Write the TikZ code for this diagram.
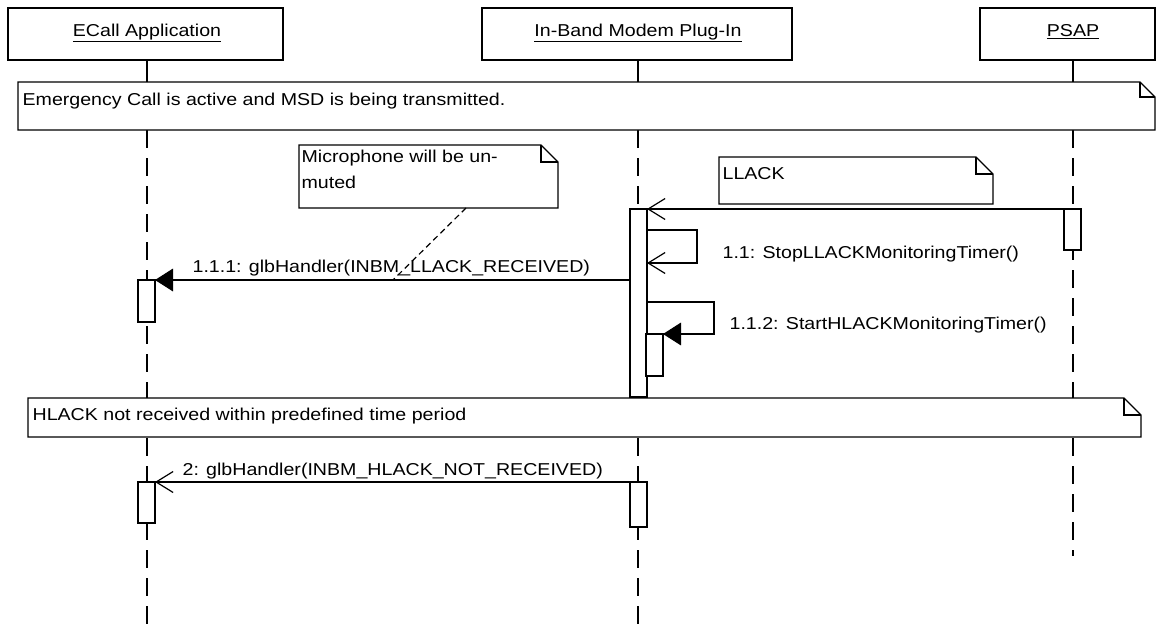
\documentclass[tikz,border=0pt]{standalone}
\usepackage{fontspec}
\setmainfont{Liberation Sans}[FakeStretch=1.14]
\usetikzlibrary{arrows.meta}

\begin{document}
\begin{tikzpicture}[x=0.75pt, y=-0.75pt, line width=0.9pt,
    font=\fontsize{12.9pt}{19.5pt}\selectfont,
    attore/.style={draw, line width=2pt, minimum height=39pt, inner sep=0pt, outer sep=0pt},
    att/.style={draw, fill=white, minimum width=12.75pt, inner sep=0pt, outer sep=0pt, anchor=north west},
    vita/.style={dash pattern=on 13.5pt off 7.5pt},
    apert/.style={-{Straight Barb[length=12.75pt, width=15.75pt]}},
    pieno/.style={-{Triangle[length=13.5pt, width=17pt]}},
    testo/.style={anchor=base west, inner sep=0pt}]
    \useasboundingbox (0,0) rectangle (1156,632);

    % Attori
    \node[attore, minimum width=206.25pt] (ecall) at (145.5,34) {};
    \node[attore, minimum width=232.5pt] (ibm) at (637,34) {};
    \node[attore, minimum width=131.25pt] (psap) at (1067.5,34) {};
    \node[anchor=base, inner sep=0pt] (ecallt) at (147,36) {\underline{ECall Application}};
    \node[anchor=base, inner sep=0pt] (ibmt) at (638,36) {\underline{In-Band Modem Plug-In}};
    \node[anchor=base, inner sep=0pt] (psapt) at (1073,36) {\underline{PSAP}};

    % Linee di vita
    \draw (ecallt |- ecall.south) -- (ecallt |- 0,82);
    \draw (ibmt |- ibm.south) -- (ibmt |- 0,82);
    \draw (psapt |- psap.south) -- (psapt |- 0,82);
    \draw[vita] (ecallt |- 0,130) -- (ecallt |- 0,632);
    \draw[vita] (ibmt |- 0,130) -- (ibmt |- 0,632);
    \draw[vita] (psapt |- 0,130) -- (psapt |- 0,556);

    % Note
    \foreach \xa/\ya/\xb/\yb/\f in {18/82/1155/130/15, 299/145/558/208/17, 719/157/993/204/17, 28/398/1141/437/17} {
        \draw[fill=white] (\xa,\ya) -- (\xb-\f,\ya) -- (\xb,\ya+\f) -- (\xb,\yb) -- (\xa,\yb) -- cycle;
        \draw (\xb-\f,\ya) -- (\xb-\f,\ya+\f) -- (\xb,\ya+\f);
    }
    \node[testo] (attiva) at (22,105) {Emergency Call is active and MSD is being transmitted.};
    \node[anchor=north west, inner sep=0pt, align=left] (micro) at (301,149) {Microphone will be un-\\muted};
    \node[testo] (llack) at (722,179) {LLACK};
    \node[testo] (hlack) at (32,420) {HLACK not received within predefined time period};
    \coordinate (microb) at (466,208);

    % Attivazioni
    \node[att, minimum height=30.75pt] (pa1) at (1064,209) {};
    \node[att, minimum height=141pt] (ia1) at (630,209) {};
    \node[att, minimum height=31.5pt] (ia2) at (646,334) {};
    \node[att, minimum height=31.5pt] (ea1) at (138,280) {};
    \node[att, minimum height=30.75pt] (ea2) at (138,482) {};
    \node[att, minimum height=33.75pt] (ib2) at (630,482) {};

    % Messaggi
    \draw[apert] (pa1.north west) -- (ia1.north east);
    \draw[apert] (ia1.east |- 0,230) -- ++(50,0) |- (ia1.east |- 0,263);
    \draw[pieno] (ia1.west |- 0,280) -- (ea1.north east);
    \draw[pieno] (ia1.east |- 0,302) -- ++(67,0) |- (ia2.north east);
    \draw[apert] (ib2.north west) -- (ea2.north east);
    \draw[dash pattern=on 4.5pt off 3pt] (microb) -- (393,280);

    \node[testo] (m11) at (722,258) {1.1: StopLLACKMonitoringTimer()};
    \node[testo] (m111) at (192,272) {1.1.1: glbHandler(INBM\_LLACK\_RECEIVED)};
    \node[testo] (m112) at (729,329) {1.1.2: StartHLACKMonitoringTimer()};
    \node[testo] (m2) at (182,475) {2: glbHandler(INBM\_HLACK\_NOT\_RECEIVED)};
\end{tikzpicture}
\end{document}
